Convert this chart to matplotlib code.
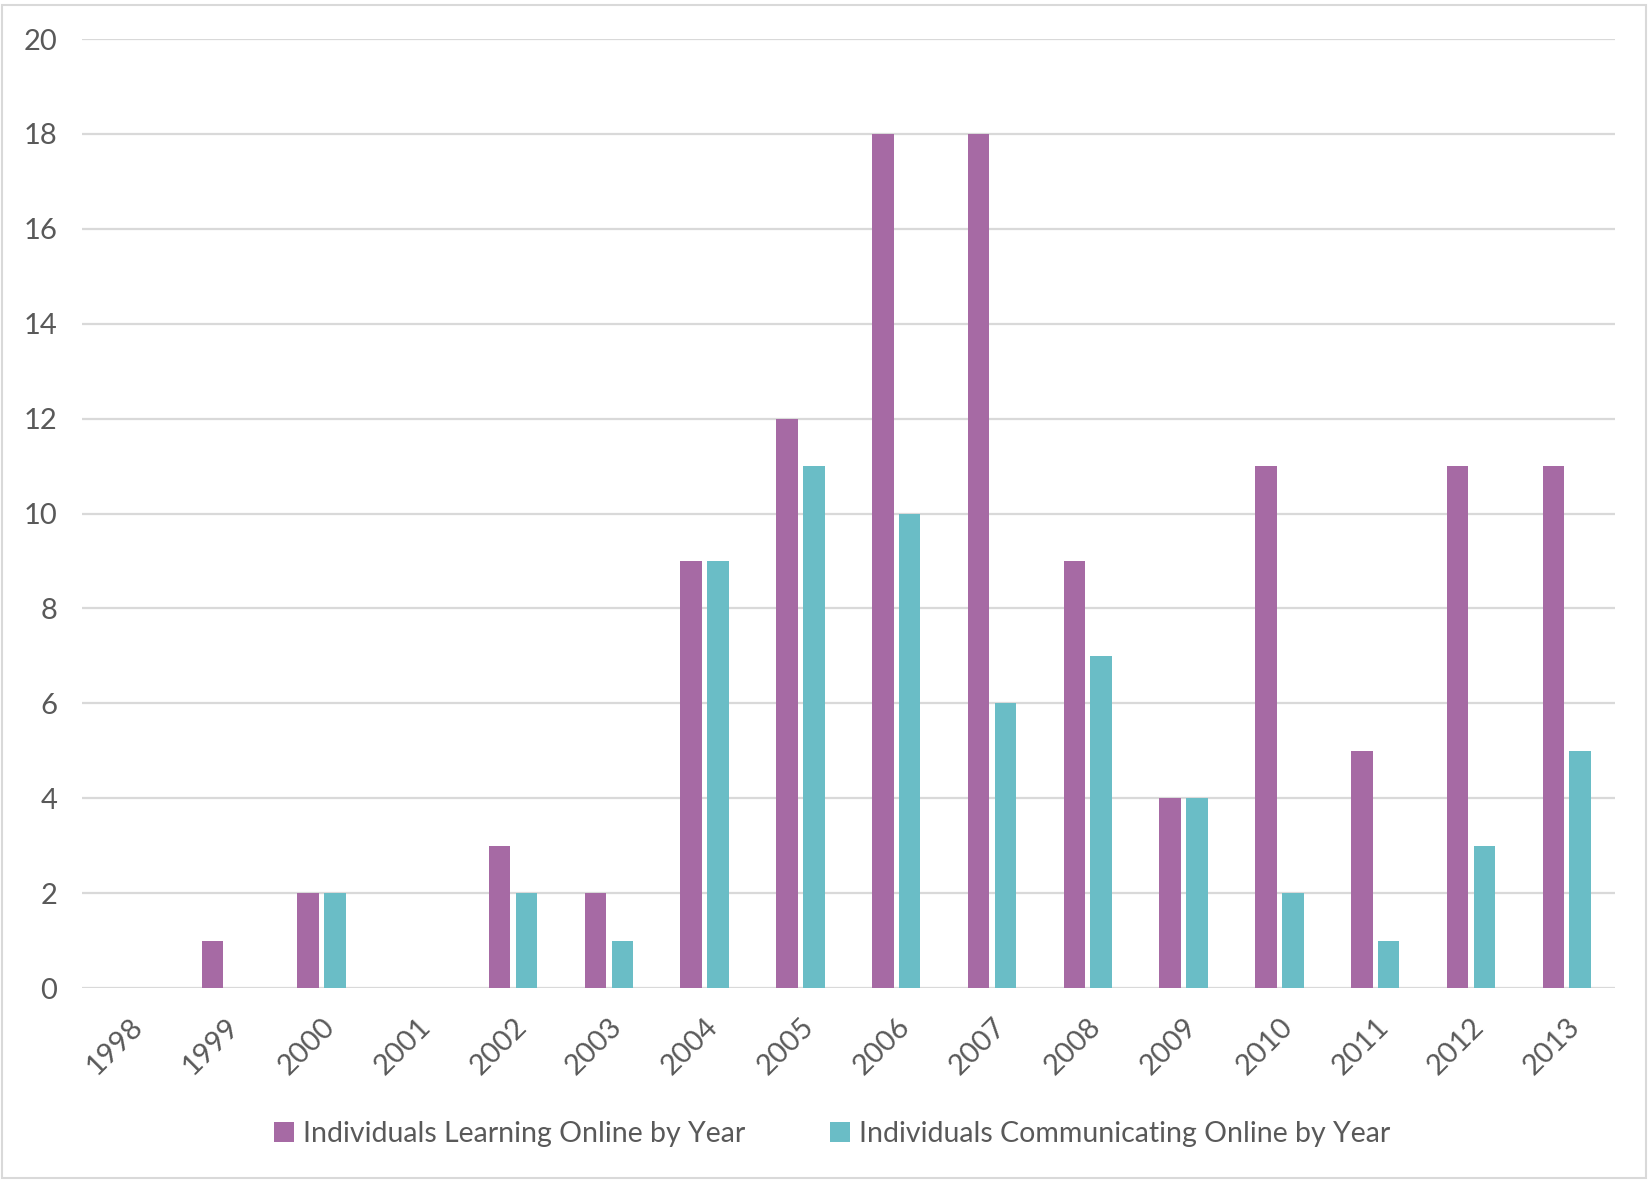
import numpy as np
import matplotlib.pyplot as plt
from matplotlib.patches import Rectangle

# === 数据 ===
years = [str(y) for y in range(1998, 2014)]
learning = [0, 1, 2, 0, 3, 2, 9, 12, 18, 18, 9, 4, 11, 5, 11, 11]
communicating = [0, 0, 2, 0, 2, 1, 9, 11, 10, 6, 7, 4, 2, 1, 3, 5]

purple = "#A66AA4"
teal = "#6ABDC6"
text_col = "#595959"
grid_col = "#D9D9D9"

plt.rcParams["font.family"] = ["Lato", "DejaVu Sans"]

fig = plt.figure(figsize=(16.51, 11.82), dpi=100)
ax = fig.add_axes([0.0497, 0.164, 0.9283, 0.803])

x = np.arange(len(years))
w = 0.225
ax.bar(x - 0.14, learning, width=w, color=purple, label="Individuals Learning Online by Year", zorder=3)
ax.bar(x + 0.14, communicating, width=w, color=teal, label="Individuals Communicating Online by Year", zorder=3)

ax.set_xlim(-0.5, len(years) - 0.5)
ax.set_ylim(0, 20)
ax.set_yticks(range(0, 21, 2))
ax.grid(axis="y", color=grid_col, linewidth=1.6, zorder=0)
ax.set_axisbelow(True)
for s in ax.spines.values():
    s.set_visible(False)

ax.tick_params(axis="both", length=0, labelsize=21, colors=text_col)
ax.tick_params(axis="y", pad=18)
ax.set_xticks(x)
ax.set_xticklabels(years, rotation=45, ha="right", va="top", rotation_mode="anchor")
ax.tick_params(axis="x", pad=18)

fig.legend(loc="center", bbox_to_anchor=(0.504, 0.041), ncol=2, frameon=False,
           fontsize=20.5, labelcolor=text_col, handlelength=0.7, handleheight=0.7,
           handletextpad=0.3, columnspacing=3.0)

# 外框
fig.patches.append(Rectangle((0.001, 0.003), 0.996, 0.993, transform=fig.transFigure,
                             fill=False, edgecolor=grid_col, linewidth=1.5))

fig.savefig("out.png", dpi=100)
